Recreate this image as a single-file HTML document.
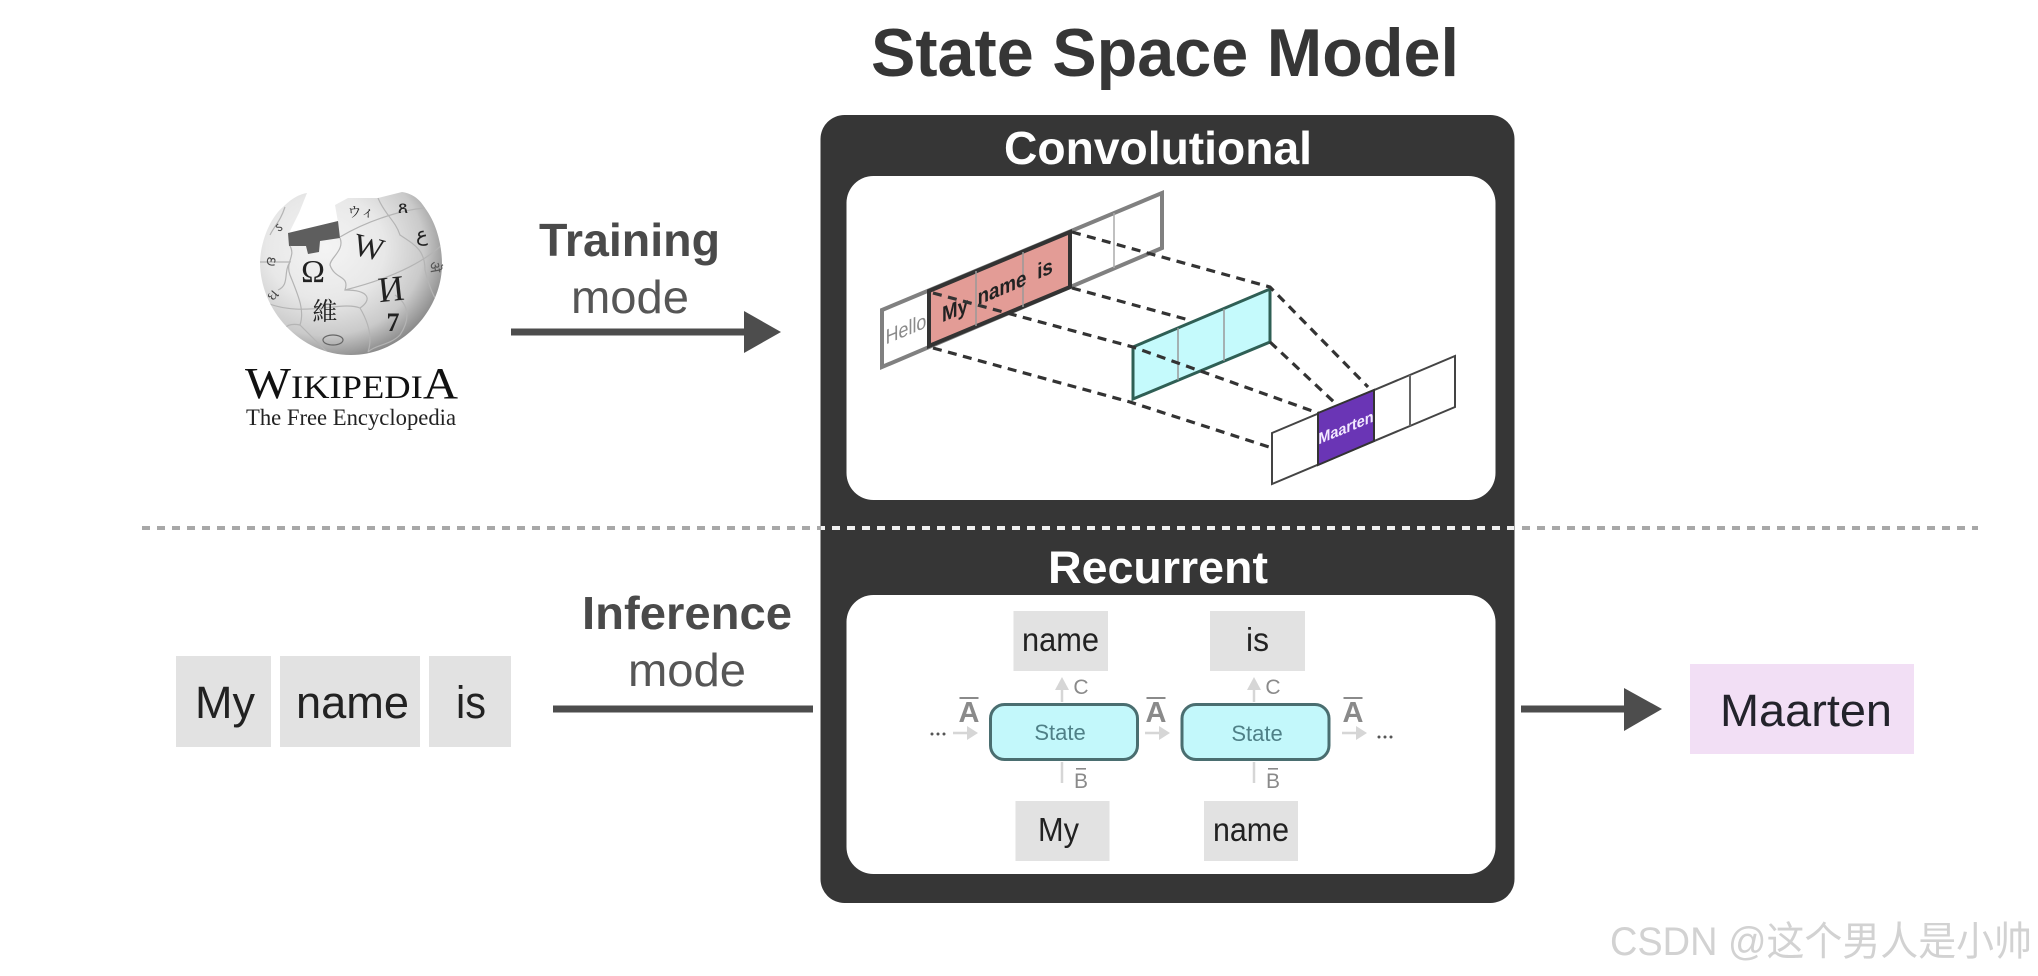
<!DOCTYPE html>
<html lang="en"><head><meta charset="utf-8"><title>State Space Model</title>
<style>
html,body{margin:0;padding:0;background:#fff;width:2038px;height:976px;overflow:hidden}
svg{display:block}
text{font-family:"Liberation Sans","Noto Sans CJK SC",sans-serif}
.serif{font-family:"Liberation Serif","Noto Serif CJK SC",serif}
</style></head><body>
<svg width="2038" height="976" viewBox="0 0 2038 976" xmlns="http://www.w3.org/2000/svg">
<defs>
<radialGradient id="g" cx="0.36" cy="0.34" r="0.72">
<stop offset="0" stop-color="#f4f4f4"/><stop offset="0.45" stop-color="#e8e8e8"/><stop offset="0.75" stop-color="#cacaca"/><stop offset="1" stop-color="#808080"/>
</radialGradient>
<clipPath id="gc"><path d="M260,262C261,238 272,216 283,207C292,198 300,194 307,193L299,213L288,235L338,222L335,205L348,198L378,198L402,192C414,194 420,200 425,208C437,224 442,246 442,264C442,312 400,355 351,355C300,355 260,310 260,262Z"/></clipPath>
</defs>

<!-- title -->
<text x="871" y="76" font-size="68" font-weight="700" fill="#363636" textLength="588" lengthAdjust="spacingAndGlyphs">State Space Model</text>

<!-- dark box -->
<rect x="820.5" y="115" width="694" height="788" rx="24" fill="#363636"/>
<rect x="846.5" y="176" width="649" height="324" rx="27" fill="#fff"/>
<rect x="846.5" y="595" width="649" height="279" rx="27" fill="#fff"/>
<text x="1004" y="164" font-size="46" font-weight="700" fill="#fff" textLength="308" lengthAdjust="spacingAndGlyphs">Convolutional</text>
<text x="1048" y="583" font-size="45" font-weight="700" fill="#fff" textLength="220" lengthAdjust="spacingAndGlyphs">Recurrent</text>

<!-- globe -->
<path d="M260,262C261,238 272,216 283,207C292,198 300,194 307,193L299,213L288,235L338,222L335,205L348,198L378,198L402,192C414,194 420,200 425,208C437,224 442,246 442,264C442,312 400,355 351,355C300,355 260,310 260,262Z" fill="url(#g)"/>
<polygon points="288,233 338,221 340,238 320,241 319,252 308,254 306,246 289,246" fill="#5e5e5e"/>
<g clip-path="url(#gc)" fill="none" stroke="#b4b4b4" stroke-width="1.2">
<path d="M260,262C275,262 285,262 290,262C283,272 290,285 278,290M340,238C345,250 330,258 330,265C335,280 350,275 345,290C370,290 372,300 360,308C340,300 300,320 260,300"/>
<path d="M290,246C296,256 285,262 290,275C298,295 305,310 300,325C310,335 320,345 330,355"/>
<path d="M345,290C385,280 420,265 442,245M340,237C365,222 400,210 425,208M378,198C385,215 395,220 400,235C415,245 425,250 425,270C430,290 435,300 440,305"/>
<path d="M360,308C370,325 372,340 368,352M395,295C410,305 410,320 400,335C390,345 375,345 368,352M285,207C280,222 275,225 270,235M300,325C285,322 280,330 283,345"/>
</g>
<g fill="#222" text-anchor="middle">
<text class="serif" x="313" y="282" font-size="32">Ω</text>
<text class="serif" x="369" y="258" font-size="32" transform="rotate(14 369 247)">W</text>
<text class="serif" x="391" y="301" font-size="36" transform="rotate(-6 391 288)">И</text>
<text class="serif" x="325" y="320" font-size="25">維</text>
<text class="serif" x="393" y="331" font-size="26" font-weight="700">7</text>
<text class="serif" x="361" y="217" font-size="14">ウィ</text>
<text class="serif" x="403" y="213" font-size="18">ጸ</text>
<text class="serif" x="422" y="241" font-size="20">ع</text>
<text class="serif" x="435" y="272" font-size="15" fill="#555" transform="rotate(80 435 267)">ऄ</text>
<text class="serif" x="270" y="267" font-size="15" fill="#444" transform="rotate(-80 270 262)">ദ</text>
<text class="serif" x="273" y="300" font-size="15" fill="#444" transform="rotate(-50 273 295)">ઘ</text>
<text class="serif" x="279" y="232" font-size="13" fill="#444" transform="rotate(-40 279 228)">ऽ</text>
</g>
<ellipse cx="333" cy="340" rx="10" ry="5" fill="none" stroke="#666" stroke-width="1.2"/>
<text class="serif" y="398" fill="#111" font-size="33" x="245" textLength="213" lengthAdjust="spacingAndGlyphs"><tspan font-size="44">W</tspan>IKIPEDI<tspan font-size="44">A</tspan></text>
<text class="serif" x="246" y="425" font-size="23" fill="#222" textLength="210" lengthAdjust="spacingAndGlyphs">The Free Encyclopedia</text>

<!-- training -->
<text x="539" y="256" font-size="46" font-weight="700" fill="#4a4a4a" textLength="181" lengthAdjust="spacingAndGlyphs">Training</text>
<text x="571" y="313" font-size="46" fill="#565656" textLength="118" lengthAdjust="spacingAndGlyphs">mode</text>
<rect x="511" y="328.5" width="236" height="7" fill="#4d4d4d"/>
<polygon points="744,311 781,332 744,353" fill="#4d4d4d"/>

<!-- convolutional diagram -->
<polygon points="882,310 1162,193 1162,248 882,367" fill="#fff" stroke="#808080" stroke-width="4"/>
<line x1="1114" y1="213" x2="1114" y2="268" stroke="#aaa" stroke-width="1.5"/>
<polygon points="929,291 1070,232 1070,287 929,346" fill="#e39c96" stroke="#333" stroke-width="4"/>
<line x1="976" y1="271" x2="976" y2="326" stroke="#999" stroke-width="1.5"/>
<line x1="1023" y1="252" x2="1023" y2="307" stroke="#999" stroke-width="1.5"/>
<g transform="translate(906,329) skewY(-22.7) scale(0.85,1)"><text text-anchor="middle" y="7" font-size="21" fill="#8a8a8a">Hello</text></g>
<g transform="translate(955,310) skewY(-22.7) scale(0.85,1)"><text text-anchor="middle" y="7" font-size="22" font-weight="700" fill="#222">My</text></g>
<g transform="translate(1002,289) skewY(-22.7) scale(0.85,1)"><text text-anchor="middle" y="6" font-size="22" font-weight="700" fill="#222">name</text></g>
<g transform="translate(1045,269) skewY(-22.7) scale(0.85,1)"><text text-anchor="middle" y="7" font-size="22" font-weight="700" fill="#222">is</text></g>

<polygon points="1133,347 1270,289 1270,342 1133,399" fill="#c5fafc" stroke="#2f5f55" stroke-width="3"/>
<line x1="1178" y1="328" x2="1178" y2="380" stroke="#999" stroke-width="1.5"/>
<line x1="1224" y1="309" x2="1224" y2="361" stroke="#999" stroke-width="1.5"/>

<polygon points="1272,433 1455,356 1455,407 1272,484" fill="#fff" stroke="#444" stroke-width="2"/>
<line x1="1410" y1="375" x2="1410" y2="426" stroke="#666" stroke-width="2"/>
<polygon points="1318,413 1374,390 1374,441 1318,465" fill="#6a35b5" stroke="#333" stroke-width="2"/>
<g transform="translate(1346,427) skewY(-22.7) scale(0.9,1)"><text text-anchor="middle" y="6" font-size="16" font-weight="700" fill="#f3eaff">Maarten</text></g>

<g fill="none" stroke="#333" stroke-width="3.2" stroke-dasharray="9 6.5">
<polyline points="933,293 1133,347 1318,413"/>
<polyline points="933,348 1130,402 1269,447"/>
<polyline points="1072,232 1270,287 1368,387"/>
<line x1="1072" y1="288" x2="1189" y2="320"/>
<line x1="1270" y1="342" x2="1335" y2="403"/>
</g>

<!-- divider -->
<line x1="142" y1="528" x2="1978" y2="528" stroke="#a8a8a8" stroke-width="4" stroke-dasharray="8 7"/>
<clipPath id="dk"><rect x="821" y="500" width="693" height="60"/></clipPath>
<line x1="142" y1="528" x2="1978" y2="528" stroke="#f0f0f0" stroke-width="4" stroke-dasharray="8 7" clip-path="url(#dk)"/>

<!-- recurrent diagram -->
<g fill="#e2e2e2">
<rect x="1013.5" y="611" width="94.5" height="60"/>
<rect x="1210" y="611" width="95" height="60"/>
<rect x="1015.5" y="801" width="94" height="60"/>
<rect x="1204" y="801" width="94" height="60"/>
</g>
<g font-size="33" fill="#222">
<text x="1022" y="651" textLength="77" lengthAdjust="spacingAndGlyphs">name</text>
<text x="1246" y="651" textLength="23" lengthAdjust="spacingAndGlyphs">is</text>
<text x="1038" y="841" textLength="41" lengthAdjust="spacingAndGlyphs">My</text>
<text x="1213" y="841" textLength="76" lengthAdjust="spacingAndGlyphs">name</text>
</g>
<rect x="990.5" y="704.5" width="147" height="55" rx="14" fill="#c3f8fb" stroke="#4a6e70" stroke-width="3"/>
<rect x="1182" y="704.5" width="147" height="55" rx="14" fill="#c3f8fb" stroke="#4a6e70" stroke-width="3"/>
<text x="1060" y="740" font-size="22" fill="#4f8087" text-anchor="middle">State</text>
<text x="1257" y="741" font-size="22" fill="#4f8087" text-anchor="middle">State</text>

<g stroke="#d6d6d6" stroke-width="2.5" fill="none">
<line x1="1062" y1="702" x2="1062" y2="685"/>
<line x1="1254" y1="702" x2="1254" y2="685"/>
<line x1="1062" y1="762" x2="1062" y2="783"/>
<line x1="1254" y1="762" x2="1254" y2="783"/>
<line x1="953" y1="733" x2="970" y2="733"/>
<line x1="1145" y1="733" x2="1162" y2="733"/>
<line x1="1342" y1="733" x2="1359" y2="733"/>
</g>
<g fill="#d6d6d6">
<polygon points="1062,677 1055,690 1069,690"/>
<polygon points="1254,677 1247,690 1261,690"/>
<polygon points="978,733 967,726 967,740"/>
<polygon points="1170,733 1159,726 1159,740"/>
<polygon points="1367,733 1356,726 1356,740"/>
</g>
<g fill="#8a8a8a" text-anchor="middle">
<text x="1081" y="694" font-size="21">C</text>
<text x="1273" y="694" font-size="21">C</text>
<text x="1081" y="788" font-size="21">B</text>
<text x="1273" y="788" font-size="21">B</text>
<text x="969" y="722" font-size="29" font-weight="700">A</text>
<text x="1156" y="722" font-size="29" font-weight="700">A</text>
<text x="1353" y="722" font-size="29" font-weight="700">A</text>
<rect x="1076" y="768" width="10" height="1.6"/>
<rect x="1268" y="768" width="10" height="1.6"/>
<rect x="959.5" y="697" width="19" height="2"/>
<rect x="1146.5" y="697" width="19" height="2"/>
<rect x="1343.5" y="697" width="19" height="2"/>
</g>
<g fill="#555">
<circle cx="932" cy="734" r="1.5"/><circle cx="938" cy="734" r="1.5"/><circle cx="944" cy="734" r="1.5"/>
<circle cx="1379" cy="737" r="1.5"/><circle cx="1385" cy="737" r="1.5"/><circle cx="1391" cy="737" r="1.5"/>
</g>

<!-- inference -->
<g fill="#e2e2e2">
<rect x="176" y="656" width="95" height="91"/>
<rect x="280" y="656" width="140" height="91"/>
<rect x="429" y="656" width="82" height="91"/>
</g>
<g font-size="45" fill="#222">
<text x="195" y="718" textLength="60" lengthAdjust="spacingAndGlyphs">My</text>
<text x="296" y="718" textLength="113" lengthAdjust="spacingAndGlyphs">name</text>
<text x="456" y="718" textLength="30" lengthAdjust="spacingAndGlyphs">is</text>
</g>
<text x="582" y="629" font-size="46" font-weight="700" fill="#4a4a4a" textLength="210" lengthAdjust="spacingAndGlyphs">Inference</text>
<text x="628" y="686" font-size="46" fill="#565656" textLength="118" lengthAdjust="spacingAndGlyphs">mode</text>
<rect x="553" y="705.5" width="260" height="7" fill="#4d4d4d"/>

<!-- output -->
<rect x="1521" y="705.5" width="106" height="7" fill="#4d4d4d"/>
<polygon points="1624,688 1662,709 1624,731" fill="#4d4d4d"/>
<rect x="1690" y="664" width="224" height="90" fill="#f2dff5"/>
<text x="1720" y="726" font-size="45" fill="#23232b" textLength="172" lengthAdjust="spacingAndGlyphs">Maarten</text>

<!-- watermark -->
<text x="1610" y="955" font-size="40" fill="#d2d2d2" textLength="422" lengthAdjust="spacingAndGlyphs">CSDN @这个男人是小帅</text>
</svg>
</body></html>
